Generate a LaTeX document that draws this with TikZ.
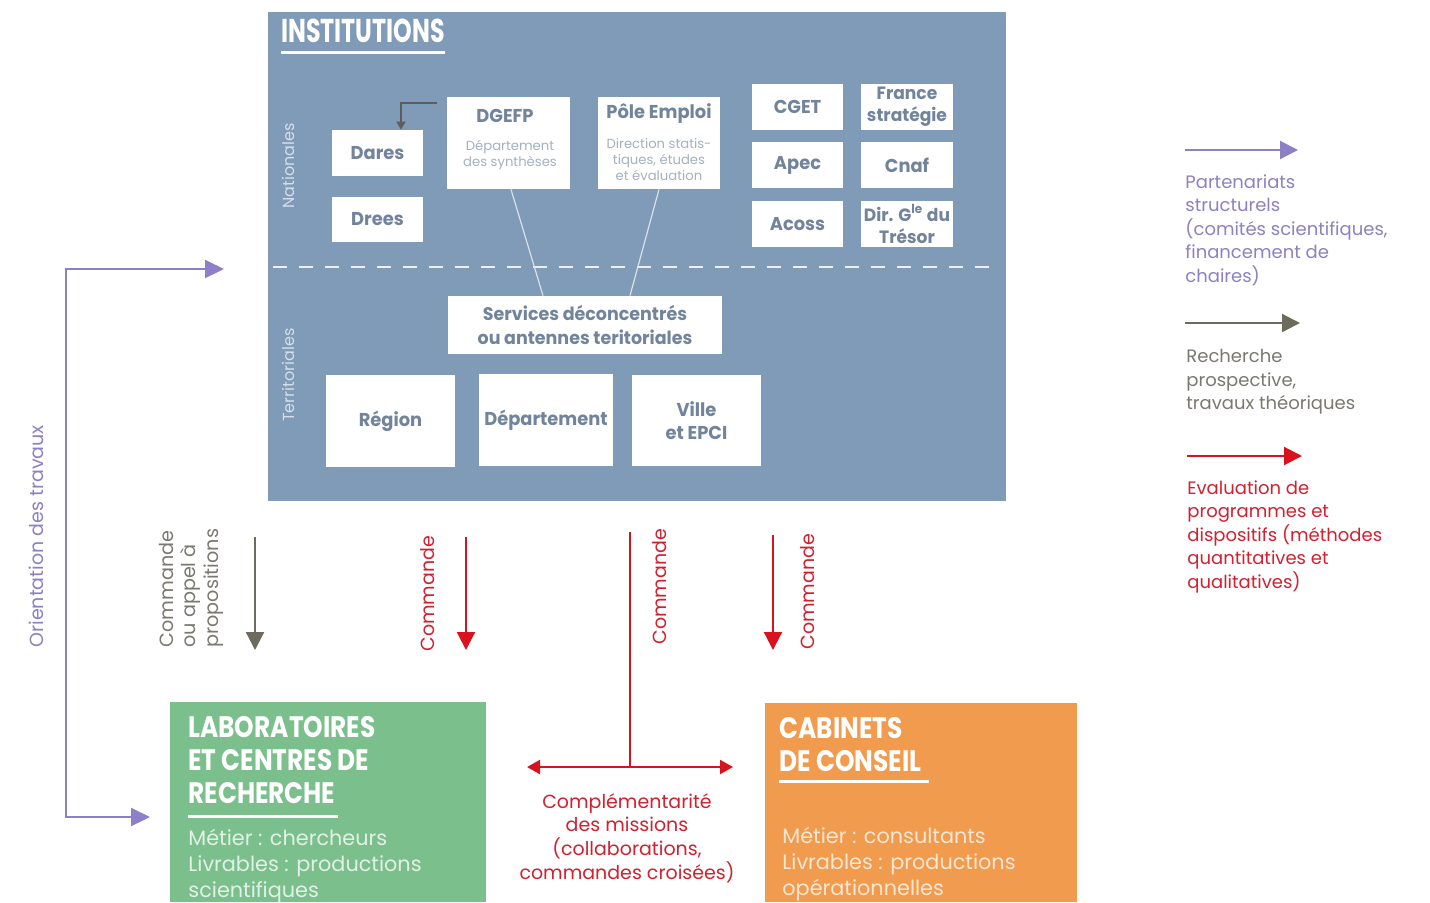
\documentclass[tikz,border=0pt]{standalone}
\usepackage{fontspec}
\setmainfont{Poppins}
\newfontfamily\titlefont[FakeStretch=0.72]{Poppins}
\newfontfamily\bigtitlefont[FakeStretch=0.84]{Poppins}
\newfontfamily\boxfont[FakeStretch=0.96]{Poppins}
\usetikzlibrary{arrows.meta}
\definecolor{instblue}{HTML}{7F9BB8}
\definecolor{boxtxt}{HTML}{72849B}
\definecolor{subtxt}{HTML}{A5B1C0}
\definecolor{lightlbl}{HTML}{D6DFE9}
\definecolor{purp}{HTML}{8E80C6}
\definecolor{purptxt}{HTML}{8C82C2}
\definecolor{grayarr}{HTML}{6D6B5C}
\definecolor{graytxt}{HTML}{7A7870}
\definecolor{redarr}{HTML}{D8121F}
\definecolor{redtxt}{HTML}{D3202F}
\definecolor{labgreen}{HTML}{7BBF8C}
\definecolor{orng}{HTML}{F19B4E}
\definecolor{elbowc}{HTML}{5E5E58}
\begin{document}
\begin{tikzpicture}[x=0.5pt,y=-0.5pt,
  wbox/.style={fill=white, draw=none, inner sep=0pt, align=center, text=boxtxt,
    font=\boxfont\bfseries\fontsize{9.3}{11.5}\selectfont},
  subtext/.style={inner sep=0pt, align=center, text=subtxt, font=\fontsize{6.6}{8.2}\selectfont},
  sidelbl/.style={inner sep=0pt, rotate=90, text=lightlbl, font=\fontsize{8}{9.6}\selectfont},
  bigtitle/.style={inner sep=0pt, anchor=north west, align=left, text=white,
    font=\bigtitlefont\bfseries\fontsize{14.8}{16.5}\selectfont},
  bodytext/.style={inner sep=0pt, anchor=north west, align=left,
    font=\fontsize{10.4}{13}\selectfont},
  rotlbl/.style={inner sep=0pt, rotate=90, anchor=west, align=left},
  legtext/.style={inner sep=0pt, anchor=north west, align=left, font=\fontsize{9}{11.75}\selectfont},
  bigtip/.style={-{Triangle[length=9pt,width=9pt]}},
  purparrow/.style={draw=purp, line width=1.1pt},
  grayarrow/.style={draw=grayarr, line width=1.1pt, bigtip},
  redarrow/.style={draw=redarr, line width=1.1pt, bigtip},
  thinlink/.style={draw=white!70!instblue, line width=0.6pt},
]
\useasboundingbox (0,0) rectangle (1430,902);
\fill[white] (0,0) rectangle (1430,902);

% ---------- Institutions frame ----------
\node[fill=instblue, minimum width=369pt, minimum height=244.5pt, inner sep=0pt] (inst) at (637,256.5) {};
\node[inner sep=0pt, anchor=north west, text=white, font=\titlefont\bfseries\fontsize{16.5}{18}\selectfont] (insttitle) at (281,19) {INSTITUTIONS};
\draw[white, line width=1.5pt] (insttitle.south west |- 0,52) -- (insttitle.south east |- 0,52);
\node[sidelbl] (natl) at (288,166) {Nationales};
\node[sidelbl] (terr) at (288,375) {Territoriales};
\draw[white!85!instblue, line width=0.8pt, dash pattern=on 7pt off 6pt] (273,267) -- (1000,267);

% national boxes
\node[wbox, minimum width=45.5pt, minimum height=23pt] (dares) at (377.5,153) {Dares};
\node[wbox, minimum width=45.5pt, minimum height=22.5pt] (drees) at (377.5,219.5) {Drees};
\node[wbox, minimum width=61.5pt, minimum height=46pt] (dgefp) at (508.5,143) {};
\node[inner sep=0pt, text=boxtxt, font=\boxfont\bfseries\fontsize{9.3}{11.5}\selectfont] (dgefpt) at (505,116) {DGEFP};
\node[subtext] (dgefps) at (510,155) {Département\\des synthèses};
\node[wbox, minimum width=61pt, minimum height=46pt] (pole) at (659,143) {};
\node[inner sep=0pt, text=boxtxt, font=\boxfont\bfseries\fontsize{9.3}{11.5}\selectfont] (polet) at (659,114) {Pôle Emploi};
\node[subtext] (poles) at (659,159.5) {Direction statis-\\tiques, études\\et évaluation};
\node[wbox, minimum width=45.5pt, minimum height=23pt] (cget) at (797.5,107) {CGET};
\node[wbox, minimum width=45.5pt, minimum height=23pt] (apec) at (797.5,165) {Apec};
\node[wbox, minimum width=45.5pt, minimum height=23pt] (acoss) at (797.5,224) {Acoss};
\node[wbox, minimum width=46pt, minimum height=23pt, font=\boxfont\bfseries\fontsize{8.9}{11}\selectfont] (france) at (907,107) {France\\stratégie};
\node[wbox, minimum width=46pt, minimum height=23pt] (cnaf) at (907,165) {Cnaf};
\node[wbox, minimum width=46pt, minimum height=23pt, font=\boxfont\bfseries\fontsize{8.9}{11}\selectfont] (tresor) at (907,224) {Dir. G\textsuperscript{le} du\\Trésor};

% elbow arrow DGEFP -> Dares
\coordinate (e1) at (437,103);
\draw[elbowc, line width=0.9pt, -{Triangle[length=4pt,width=4.5pt]}] (e1) -| ([xshift=11.75pt]dares.north);

% territorial boxes
\node[wbox, minimum width=137pt, minimum height=29pt, font=\boxfont\bfseries\fontsize{9.1}{12}\selectfont] (services) at (585,325) {Services déconcentrés\\ou antennes teritoriales};
\node[wbox, minimum width=64.5pt, minimum height=46pt] (region) at (390.5,421) {Région};
\node[wbox, minimum width=67pt, minimum height=46pt] (dept) at (546,420) {Département};
\node[wbox, minimum width=64.5pt, minimum height=45.5pt] (ville) at (696.5,420.5) {Ville\\et EPCI};

\draw[thinlink] ([xshift=1.25pt]dgefp.south) -- ([xshift=-21pt]services.north);
\draw[thinlink] (pole.south) -- ([xshift=22.5pt]services.north);

% ---------- Lower boxes ----------
\node[fill=labgreen, minimum width=158pt, minimum height=100pt, inner sep=0pt] (labo) at (328,802) {};
\node[bigtitle] (labot) at (188,716) {LABORATOIRES\\ET CENTRES DE\\RECHERCHE};
\draw[white, line width=1.5pt] (188,816) -- (338,816);
\node[bodytext, text=white!78!labgreen] (labob) at (188,829) {Métier : chercheurs\\Livrables : productions\\scientifiques};

\node[fill=orng, minimum width=156pt, minimum height=99.5pt, inner sep=0pt] (cab) at (921,802.5) {};
\node[bigtitle] (cabt) at (779,717) {CABINETS\\DE CONSEIL};
\draw[white, line width=1.5pt] (779,781) -- (929,781);
\node[bodytext, text=white!75!orng] (cabb) at (782,827) {Métier : consultants\\Livrables : productions\\opérationnelles};

% ---------- Purple orientation arrow ----------
\coordinate (p0) at (66,269);
\coordinate (p1) at (224,269);
\coordinate (p2) at (66,817);
\coordinate (p3) at (150,817);
\draw[purparrow, {Triangle[length=9.5pt,width=9pt]}-{Triangle[length=9.5pt,width=9pt]}] (p1) -- (p0) -- (p2) -- (p3);
\node[rotlbl, text=purptxt, font=\fontsize{9.5}{11}\selectfont] (orient) at (36,648) {Orientation des travaux};

% ---------- Commande arrows ----------
\coordinate (g1) at (255,537);
\coordinate (g2) at (255,650);
\draw[grayarrow] (g1) -- (g2);
\node[rotlbl, text=graytxt, font=\fontsize{9.6}{11.25}\selectfont] (glbl) at (191,648) {Commande\\ou appel à\\propositions};

\coordinate (r1a) at (466,537);
\coordinate (r1b) at (466,650);
\draw[redarrow] (r1a) -- (r1b);
\node[rotlbl, text=redtxt, font=\fontsize{9.5}{12}\selectfont] (rl1) at (428,652) {Commande};

\coordinate (c1) at (630,532);
\coordinate (c2) at (630,767);
\coordinate (dl) at (527,767);
\coordinate (dr) at (733,767);
\draw[redarr, line width=1.1pt] (c1) -- (c2);
\draw[redarr, line width=1.1pt, {Triangle[length=6.5pt,width=7pt]}-{Triangle[length=6.5pt,width=7pt]}] (dl) -- (dr);
\node[rotlbl, text=redtxt, font=\fontsize{9.5}{12}\selectfont] (rl2) at (660,645) {Commande};

\coordinate (r3a) at (773,535);
\coordinate (r3b) at (773,650);
\draw[redarrow] (r3a) -- (r3b);
\node[rotlbl, text=redtxt, font=\fontsize{9.5}{12}\selectfont] (rl3) at (808,650) {Commande};

\node[inner sep=0pt, anchor=north, align=center, text=redtxt, font=\fontsize{9.5}{11.8}\selectfont] (compl) at (627,793) {Complémentarité\\des missions\\(collaborations,\\commandes croisées)};

% ---------- Legend ----------
\coordinate (l1a) at (1185,150);
\coordinate (l1b) at (1298,150);
\draw[purparrow, bigtip] (l1a) -- (l1b);
\node[legtext, text=purptxt] (leg1) at (1185,174) {Partenariats\\structurels\\(comités scientifiques,\\financement de\\chaires)};

\coordinate (l2a) at (1185,323);
\coordinate (l2b) at (1300,323);
\draw[grayarrow] (l2a) -- (l2b);
\node[legtext, text=graytxt] (leg2) at (1186,349) {Recherche\\prospective,\\travaux théoriques};

\coordinate (l3a) at (1187,456);
\coordinate (l3b) at (1302,456);
\draw[redarrow] (l3a) -- (l3b);
\node[legtext, text=redtxt] (leg3) at (1187,480) {Evaluation de\\programmes et\\dispositifs (méthodes\\quantitatives et\\qualitatives)};
\end{tikzpicture}
\end{document}
